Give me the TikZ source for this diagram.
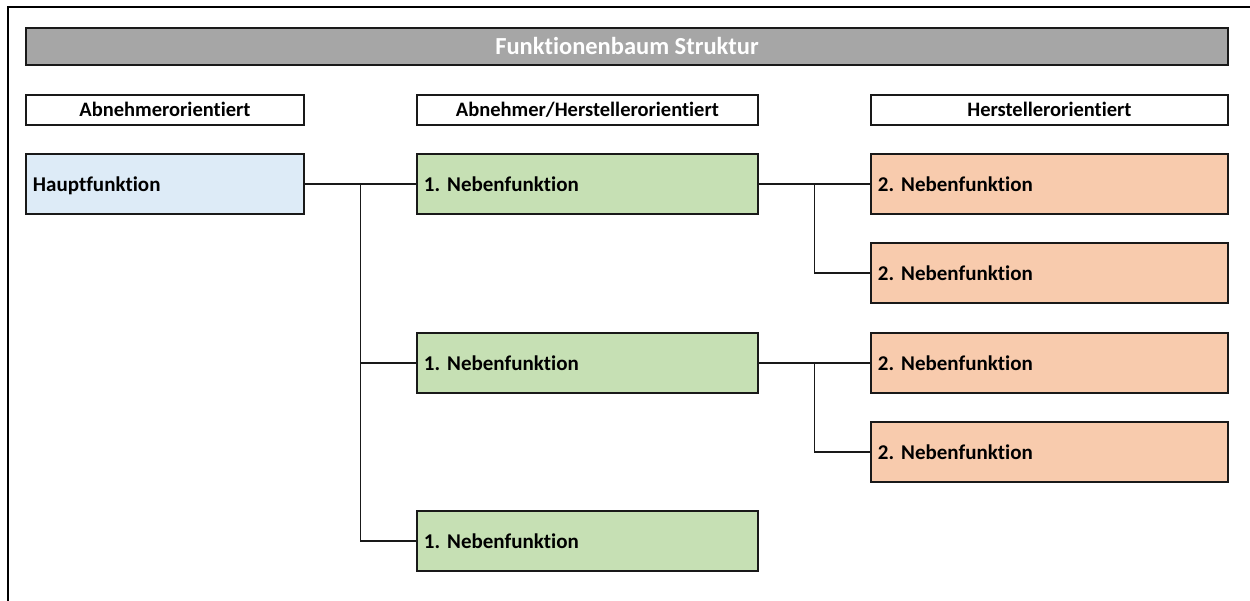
\documentclass[tikz,border=0pt]{standalone}
\usepackage{fontspec}
\setmainfont{Carlito}[Ligatures=NoCommon]
\usetikzlibrary{calc}
\definecolor{titlegray}{HTML}{A6A6A6}
\definecolor{mainblue}{HTML}{DDEBF7}
\definecolor{subgreen}{HTML}{C6E0B4}
\definecolor{suborange}{HTML}{F8CBAD}
\frenchspacing
\tikzset{
  frame/.style={line width=2.2pt},
  cell/.style={draw=black!90, line width=1.9pt, anchor=north west, inner xsep=7pt, inner ysep=0pt,
    text height=15pt, text depth=0pt,
    font=\bfseries\fontsize{21}{25}\selectfont, align=left},
  headcell/.style={draw=black!90, line width=1.9pt, anchor=north west, inner sep=0pt,
    minimum height=30pt, text height=14pt, text depth=0pt,
    font=\bfseries\fontsize{20.5}{24}\selectfont},
  fnbox/.style={cell, minimum height=60pt, text width=#1-14pt},
  link/.style={line width=1.9pt, draw=black!90}
}
\begin{document}
\begin{tikzpicture}[x=1pt, y=-1pt]
  \useasboundingbox (0,0) rectangle (1250,601);
  % sheet frame (open to the right and bottom)
  \draw[frame] (8,601) -- (8,7) -- (1250,7);

  % title bar
  \node[draw=black!90, line width=1.9pt, fill=titlegray, anchor=north west, minimum width=1202pt,
        minimum height=37pt, inner sep=0pt, text=white, text height=16pt, text depth=0pt,
        font=\bfseries\fontsize{24.5}{28}\selectfont] (title) at (25,27) {Funktionenbaum Struktur};

  % column headers
  \node[headcell, minimum width=278pt] (hA) at (25,94) {Abnehmerorientiert};
  \node[headcell, minimum width=341pt] (hB) at (416,94) {Abnehmer/Herstellerorientiert};
  \node[headcell, minimum width=357pt] (hC) at (870,94) {Herstellerorientiert};

  % main function
  \node[fnbox=278pt, fill=mainblue] (h) at (25,153) {Hauptfunktion};

  % first-level secondary functions
  \node[fnbox=341pt, fill=subgreen] (g1) at (416,153) {1. Nebenfunktion};
  \node[fnbox=341pt, fill=subgreen] (g2) at (416,332) {1. Nebenfunktion};
  \node[fnbox=341pt, fill=subgreen] (g3) at (416,510) {1. Nebenfunktion};

  % second-level secondary functions
  \node[fnbox=357pt, fill=suborange] (o1) at (870,153) {2. Nebenfunktion};
  \node[fnbox=357pt, fill=suborange] (o2) at (870,242) {2. Nebenfunktion};
  \node[fnbox=357pt, fill=suborange] (o3) at (870,332) {2. Nebenfunktion};
  \node[fnbox=357pt, fill=suborange] (o4) at (870,421) {2. Nebenfunktion};

  % tree connectors
  \coordinate (j1) at ($(h.east)!0.5!(g1.west)$);
  \coordinate (j2) at ($(g1.east)!0.5!(o1.west)$);
  \coordinate (j3) at ($(g2.east)!0.5!(o3.west)$);

  \draw[link] (h.east) -- (g1.west);
  \draw[link] (j1) |- (g2.west);
  \draw[link] (j1) |- (g3.west);

  \draw[link] (g1.east) -- (o1.west);
  \draw[link] (j2) |- (o2.west);

  \draw[link] (g2.east) -- (o3.west);
  \draw[link] (j3) |- (o4.west);
\end{tikzpicture}
\end{document}
